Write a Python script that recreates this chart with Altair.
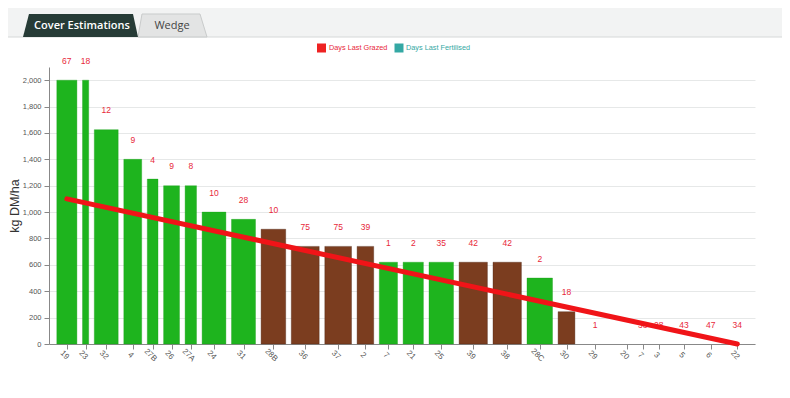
import json
import altair as alt
import pandas as pd

# ---------------- data ----------------
names = ["19", "23", "32", "4", "27B", "26", "27A", "24", "31", "28B", "36", "37", "2", "7",
         "21", "25", "39", "38", "28C", "30", "29", "20", "7", "3", "5", "6", "22"]
area_ha = [2.57, 1.18, 2.95, 2.35, 1.63, 2.15, 1.70, 2.94, 2.96, 3.02, 3.35, 3.23, 2.22, 2.38,
           2.59, 3.01, 3.39, 3.40, 3.11, 2.24, 3.46, 2.88, 0.32, 2.88, 2.18, 3.16, 2.16]
cover = [2000, 2000, 1625, 1400, 1250, 1200, 1200, 1000, 945, 870, 740, 740, 740, 620,
         620, 620, 620, 620, 500, 245, 0, 0, 0, 0, 0, 0, 0]
status = ["Fertilised"] * 9 + ["Grazed"] * 4 + ["Fertilised"] * 3 + ["Grazed"] * 2 + \
         ["Fertilised"] + ["Grazed"] + ["Fertilised"] * 7
days_grazed = ["67", "18", "12", "9", "4", "9", "8", "10", "28", "10", "75", "75", "39", "1",
               "2", "35", "42", "42", "2", "18", "1", "", "38", "28", "43", "47", "34"]
target_cover = [1100, 0]
legend_labels = ["Days Last Grazed", "Days Last Fertilised"]

# ---------------- derived table ----------------
gap = 0.28
starts, ends, centers = [], [], []
pos = 0.0
for w in area_ha:
    starts.append(round(pos + gap, 3))
    ends.append(round(pos + w - gap, 3))
    centers.append(round(pos + w / 2, 3))
    pos += w

df = pd.DataFrame({"name": names, "x0": starts, "x1": ends, "xc": centers,
                   "cover": cover, "status": status, "days": days_grazed})
line_df = pd.DataFrame({"xc": [centers[0], centers[-1]], "cover": target_cover})
one = pd.DataFrame({"k": [0]})

GREEN = "#1eb41e"
BROWN = "#7b3d1f"
RED_TXT = "#e8283a"
TEAL = "#34a8a4"
FONT = "Liberation Sans"

xscale = alt.Scale(domain=[-0.5, 70.1], nice=False, zero=False)
yscale = alt.Scale(domain=[0, 2100], nice=False)

label_expr = f"{json.dumps(names)}[indexof({json.dumps(centers)}, datum.value)]"

xaxis = alt.Axis(
    values=centers, labelExpr=label_expr, title=None, grid=False,
    labelAngle=45, labelAlign="center", labelBaseline="top",
    labelOverlap=False, labelFlush=False, labelFont=FONT, labelFontSize=8,
    labelColor="#555555", labelPadding=3, tickSize=5, tickColor="#888888",
    domainColor="#888888")
yaxis = alt.Axis(
    values=list(range(0, 2001, 200)), format=",.0f", title="kg DM/ha",
    grid=True, gridColor="#e6e8e8", domainColor="#888888", tickColor="#888888",
    tickSize=5, labelFont=FONT, labelFontSize=7.5, labelColor="#555555",
    labelPadding=3, titleFont=FONT, titleFontSize=12.5, titleFontWeight="normal",
    titleColor="#333333", titleX=-34.5, titleY=138.5, titleBaseline="middle",
    titleAngle=270)

# ---------------- decorations ----------------
band = alt.Chart(one).mark_rect(fill="#f2f3f3").encode(
    x=alt.value(-41), x2=alt.value(735), y=alt.value(-59), y2=alt.value(-30))
border = alt.Chart(one).mark_rule(color="#d6d8d8", strokeWidth=1).encode(
    x=alt.value(-41), x2=alt.value(735), y=alt.value(-30))
tab1 = alt.Chart(one).mark_point(
    shape="M-1,0.2L-0.896,-0.2L0.913,-0.2L1,0.2Z", size=13225, filled=True,
    fill="#263b36", opacity=1, strokeWidth=0).encode(x=alt.value(31.5), y=alt.value(-41.5))
tab2 = alt.Chart(one).mark_point(
    shape="M-1,0.333L-0.884,-0.333L0.797,-0.333L1,0.333Z", size=4761, filled=True,
    fill="#e3e4e4", stroke="#c9cbcb", strokeWidth=1, opacity=1).encode(
    x=alt.value(123.5), y=alt.value(-41.5))
tab1_text = alt.Chart(one).mark_text(
    text="Cover Estimations", font="Open Sans", fontSize=11, color="white",
    fontWeight=600, baseline="middle").encode(x=alt.value(33), y=alt.value(-41))
tab2_text = alt.Chart(one).mark_text(
    text="Wedge", font="Open Sans", fontSize=11, color="#444444",
    baseline="middle").encode(x=alt.value(123), y=alt.value(-41))

leg_sq1 = alt.Chart(one).mark_square(size=81, color="#ee2222", opacity=1).encode(
    x=alt.value(272.5), y=alt.value(-19))
leg_tx1 = alt.Chart(one).mark_text(
    text=legend_labels[0], font=FONT, fontSize=7.3, color=RED_TXT, align="left",
    baseline="middle").encode(x=alt.value(280), y=alt.value(-19))
leg_sq2 = alt.Chart(one).mark_square(size=81, color=TEAL, opacity=1).encode(
    x=alt.value(350), y=alt.value(-19))
leg_tx2 = alt.Chart(one).mark_text(
    text=legend_labels[1], font=FONT, fontSize=7.3, color=TEAL, align="left",
    baseline="middle").encode(x=alt.value(357), y=alt.value(-19))

# ---------------- chart ----------------
bars = alt.Chart(df).transform_filter("datum.cover > 0").mark_rect(
    strokeWidth=0.6, strokeOpacity=0.6).encode(
    x=alt.X("x0:Q", scale=xscale, axis=xaxis),
    x2="x1:Q",
    y=alt.Y("cover:Q", scale=yscale, axis=yaxis),
    y2=alt.datum(0),
    fill=alt.Fill("status:N", scale=alt.Scale(domain=["Fertilised", "Grazed"],
                                               range=[GREEN, BROWN]), legend=None),
    stroke=alt.Stroke("status:N", scale=alt.Scale(domain=["Fertilised", "Grazed"],
                                                   range=["#1aa01a", "#4a2210"]), legend=None),
)

labels = alt.Chart(df).mark_text(
    font=FONT, fontSize=8.5, color=RED_TXT, baseline="middle", dy=-19.5).encode(
    x=alt.X("xc:Q", scale=xscale, axis=xaxis),
    y=alt.Y("cover:Q", scale=yscale, axis=yaxis),
    text="days:N")

trend = alt.Chart(line_df).mark_line(color="#f01418", strokeWidth=5, strokeCap="round").encode(
    x=alt.X("xc:Q", scale=xscale, axis=xaxis),
    y=alt.Y("cover:Q", scale=yscale, axis=yaxis))

chart = alt.layer(
    bars, labels, trend,
    band, border, tab2, tab1, tab1_text, tab2_text,
    leg_sq1, leg_tx1, leg_sq2, leg_tx2,
).properties(
    width=706, height=277,
    padding={"left": 41, "top": 59, "right": 27, "bottom": 46},
    autosize=alt.AutoSizeParams(type="none"),
    background="white",
).configure_view(stroke=None)

chart.save("out.html", embed_options={"renderer": "svg", "actions": False})
